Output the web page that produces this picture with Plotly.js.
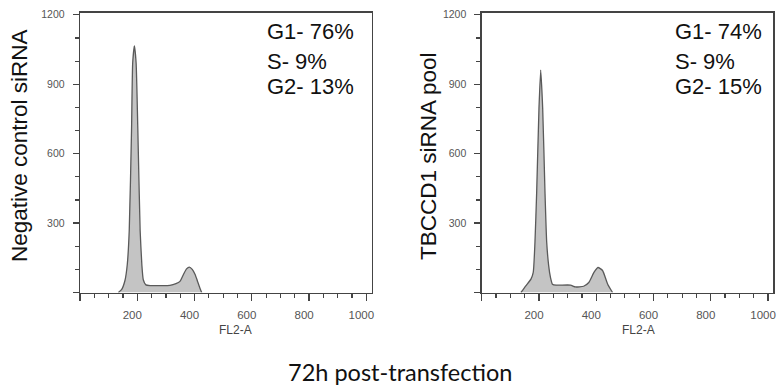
<!DOCTYPE html>
<html>
<head>
<meta charset="utf-8">
<script src="https://cdn.plot.ly/plotly-3.0.1.min.js"></script>
<style>html,body{margin:0;padding:0;background:#fff;}#chart{width:777px;height:387px;}</style>
</head>
<body>
<div id="chart"></div>
<script>
// Negative control siRNA (FL2-A channel vs count)
const ctrlFL2 = [134,145,157,165,172,180,184,190,196,202,210,216,221,230,245,280,314,335,349,362,372,382,392,402,410,418,425];
const ctrlCount = [0,12,52,120,269,702,992,1066,992,702,269,120,55,33,30,30,31,38,48,80,102,110,100,78,50,22,0];
// TBCCD1 siRNA pool
const tbcFL2 = [137,154,172,180,186,192,200,206,213,221,227,234,240,247,260,310,327,356,374,392,406,422,440,457];
const tbcCount = [0,29,58,87,217,434,795,961,795,434,217,115,66,36,32,32,24,27,43,87,108,95,36,0];

const ctrlLabels = ["G1- 76%", "S- 9%", "G2- 13%"];
const tbcLabels = ["G1- 74%", "S- 9%", "G2- 15%"];
const yTitles = ["Negative control siRNA", "TBCCD1 siRNA pool"];
const xTitle = "FL2-A";
const bottomTitle = "72h post-transfection";
const xTickVals = [0,200,400,600,800,1000];
const xTickText = ["","200","400","600","800","1000"];
const yTickVals = [0,300,600,900,1200];
const yTickText = ["","300","600","900","1200"];

const W = 777, H = 387;
const lineStyle = {color:'#5a5a5a', width:1.3, shape:'spline', smoothing:0.5};
const traces = [
  {x:ctrlFL2, y:ctrlCount, type:'scatter', mode:'lines', fill:'tozeroy', fillcolor:'#c4c4c4', line:lineStyle, xaxis:'x', yaxis:'y', hoverinfo:'skip'},
  {x:tbcFL2, y:tbcCount, type:'scatter', mode:'lines', fill:'tozeroy', fillcolor:'#c4c4c4', line:lineStyle, xaxis:'x2', yaxis:'y2', hoverinfo:'skip'}
];

function xax(domain){
  return {domain:domain, range:[0,1018], showgrid:false, zeroline:false,
    showline:true, linecolor:'#444', linewidth:1.3, mirror:true,
    tickmode:'array', tickvals:xTickVals, ticktext:xTickText, ticks:'outside', ticklen:7, tickwidth:1.3, tickcolor:'#444',
    minor:{dtick:50, tick0:0, ticks:'outside', ticklen:4, tickwidth:1.2, tickcolor:'#444'},
    tickfont:{family:'Liberation Sans, Arial, sans-serif', size:11.5, color:'#555'}, ticklabelstandoff:4,
    ticklabelshift:-5, ticklabeloverflow:'allow', fixedrange:true};
}
function yax(domain, anchor){
  return {domain:domain, range:[0,1210], anchor:anchor, showgrid:false, zeroline:false,
    showline:true, linecolor:'#444', linewidth:1.3, mirror:true,
    tickmode:'array', tickvals:yTickVals, ticktext:yTickText, ticks:'outside', ticklen:6, tickwidth:1.3, tickcolor:'#444',
    minor:{dtick:100, tick0:0, ticks:'outside', ticklen:4, tickwidth:1.2, tickcolor:'#444'},
    tickfont:{family:'Liberation Sans, Arial, sans-serif', size:10.5, color:'#555'}, ticklabelstandoff:6, fixedrange:true};
}
const yDom = [1-292.5/H, 1-12.5/H];
const layout = {
  width:W, height:H, margin:{l:0,r:0,t:0,b:0}, paper_bgcolor:'#fff', plot_bgcolor:'#fff', showlegend:false,
  xaxis: Object.assign(xax([80/W, 371.5/W]), {anchor:'y'}),
  yaxis: yax(yDom, 'x'),
  xaxis2: Object.assign(xax([481.7/W, 773.2/W]), {anchor:'y2'}),
  yaxis2: yax(yDom, 'x2'),
  annotations: []
};
const labelY = [32, 62, 87];
const bigFont = {family:'Liberation Sans, Arial, sans-serif', size:22, color:'#111'};
ctrlLabels.forEach((t,i)=>layout.annotations.push({text:t, xref:'paper', yref:'paper', x:265/W, y:1-labelY[i]/H, xanchor:'left', yanchor:'middle', showarrow:false, font:bigFont}));
tbcLabels.forEach((t,i)=>layout.annotations.push({text:t, xref:'paper', yref:'paper', x:673/W, y:1-labelY[i]/H, xanchor:'left', yanchor:'middle', showarrow:false, font:bigFont}));
layout.annotations.push({text:yTitles[0], xref:'paper', yref:'paper', x:20/W, y:1-146/H, textangle:-90, xanchor:'center', yanchor:'middle', showarrow:false, font:{family:'Liberation Sans, Arial, sans-serif', size:22.5, color:'#111'}});
layout.annotations.push({text:yTitles[1], xref:'paper', yref:'paper', x:428/W, y:1-156/H, textangle:-90, xanchor:'center', yanchor:'middle', showarrow:false, font:{family:'Liberation Sans, Arial, sans-serif', size:22.5, color:'#111'}});
layout.annotations.push({text:xTitle, xref:'paper', yref:'paper', x:235/W, y:1-330/H, xanchor:'center', yanchor:'middle', showarrow:false, font:{family:'Liberation Sans, Arial, sans-serif', size:12, color:'#444'}});
layout.annotations.push({text:xTitle, xref:'paper', yref:'paper', x:638/W, y:1-330/H, xanchor:'center', yanchor:'middle', showarrow:false, font:{family:'Liberation Sans, Arial, sans-serif', size:12, color:'#444'}});
layout.annotations.push({text:bottomTitle, xref:'paper', yref:'paper', x:400/W, y:1-372/H, xanchor:'center', yanchor:'middle', showarrow:false, font:{family:'Lato, Carlito, sans-serif', size:23.5, color:'#111'}});

Plotly.newPlot('chart', traces, layout, {staticPlot:true, displayModeBar:false});
</script>
</body>
</html>
